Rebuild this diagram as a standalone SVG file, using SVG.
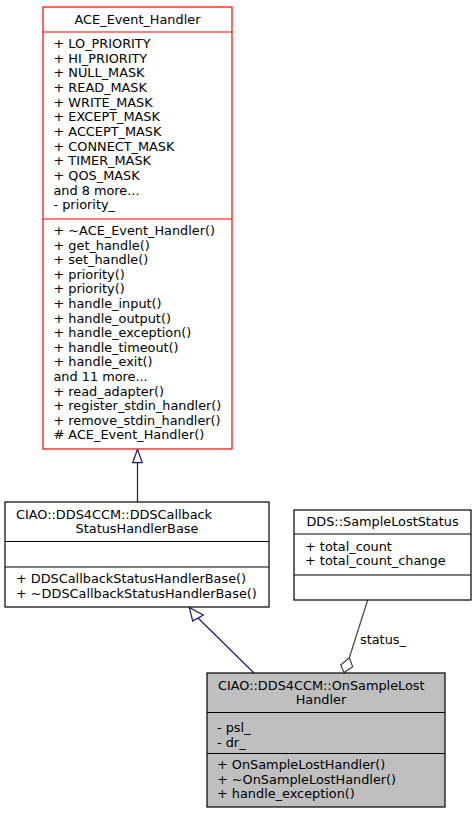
<svg xmlns="http://www.w3.org/2000/svg" width="476" height="813" viewBox="0 0 476 813">
<style>
text{font-family:"DejaVu Sans","Noto Sans",sans-serif;font-size:12.85px;fill:#000}
.c{text-anchor:middle}
.box{fill:#fff;stroke:#000;stroke-width:1.2}
.red{fill:#fff;stroke:#ff0000;stroke-width:1.2}
.gray{fill:#bfbfbf;stroke:#000;stroke-width:1.2}
.sepr{stroke:#ff0000;stroke-width:1.2}
.sep{stroke:#000;stroke-width:1.2}
.inh{stroke:#191970;stroke-width:1.2;fill:none}
.inhh{stroke:#191970;stroke-width:1.2;fill:#fff}
.agg{stroke:#404040;stroke-width:1.2;fill:none}
.aggh{stroke:#404040;stroke-width:1.2;fill:#fff}
</style>
<rect width="476" height="813" fill="#fff"/>
<g id="connectors">
<line class="inh" x1="137.5" y1="502" x2="137.5" y2="462.7"/>
<polygon class="inhh" points="137.5,449.3 132.7,462.7 142.3,462.7"/>
<line class="inh" x1="254" y1="673" x2="198" y2="618"/>
<polygon class="inhh" points="189.3,607.5 192.7,621 203.3,615"/>
<line class="agg" x1="367.7" y1="600" x2="349.3" y2="657.7"/>
<polygon class="aggh" points="349.3,657.7 352.7,666.7 344,672.5 340.7,665"/>
<text x="360" y="643.5">status_</text>
</g>
<g id="ACE_Event_Handler">
<rect class="red" x="43" y="7" width="189" height="442"/>
<line class="sepr" x1="43" y1="32" x2="232" y2="32"/>
<line class="sepr" x1="43" y1="219" x2="232" y2="219"/>
<text class="c" x="137.5" y="23.5">ACE_Event_Handler</text>
<text x="53.5" y="48">+ LO_PRIORITY</text>
<text x="53.5" y="62.67">+ HI_PRIORITY</text>
<text x="53.5" y="77.33">+ NULL_MASK</text>
<text x="53.5" y="92">+ READ_MASK</text>
<text x="53.5" y="106.67">+ WRITE_MASK</text>
<text x="53.5" y="121.33">+ EXCEPT_MASK</text>
<text x="53.5" y="136">+ ACCEPT_MASK</text>
<text x="53.5" y="150.67">+ CONNECT_MASK</text>
<text x="53.5" y="165.33">+ TIMER_MASK</text>
<text x="53.5" y="180">+ QOS_MASK</text>
<text x="53.5" y="194.67">and 8 more...</text>
<text x="53.5" y="209.33">- priority_</text>
<text x="53.5" y="235">+ ~ACE_Event_Handler()</text>
<text x="53.5" y="249.6">+ get_handle()</text>
<text x="53.5" y="264.2">+ set_handle()</text>
<text x="53.5" y="278.8">+ priority()</text>
<text x="53.5" y="293.4">+ priority()</text>
<text x="53.5" y="308">+ handle_input()</text>
<text x="53.5" y="322.6">+ handle_output()</text>
<text x="53.5" y="337.2">+ handle_exception()</text>
<text x="53.5" y="351.8">+ handle_timeout()</text>
<text x="53.5" y="366.4">+ handle_exit()</text>
<text x="53.5" y="381">and 11 more...</text>
<text x="53.5" y="395.6">+ read_adapter()</text>
<text x="53.5" y="410.2">+ register_stdin_handler()</text>
<text x="53.5" y="424.8">+ remove_stdin_handler()</text>
<text x="53.5" y="439.4"># ACE_Event_Handler()</text>
</g>
<g id="DDSCallbackStatusHandlerBase">
<rect class="box" x="5" y="502" width="264" height="105"/>
<line class="sep" x1="5" y1="541.5" x2="269" y2="541.5"/>
<line class="sep" x1="5" y1="567" x2="269" y2="567"/>
<text x="16" y="519">CIAO::DDS4CCM::DDSCallback</text>
<text class="c" x="137" y="533">StatusHandlerBase</text>
<text x="16" y="582.5">+ DDSCallbackStatusHandlerBase()</text>
<text x="16" y="597.5">+ ~DDSCallbackStatusHandlerBase()</text>
</g>
<g id="SampleLostStatus">
<rect class="box" x="294" y="510" width="177" height="90"/>
<line class="sep" x1="294" y1="534" x2="471" y2="534"/>
<line class="sep" x1="294" y1="575" x2="471" y2="575"/>
<text class="c" x="382.5" y="525.5">DDS::SampleLostStatus</text>
<text x="305" y="551">+ total_count</text>
<text x="305" y="565">+ total_count_change</text>
</g>
<g id="OnSampleLostHandler">
<rect class="gray" x="207" y="673" width="238" height="134"/>
<line class="sep" x1="207" y1="712.5" x2="445" y2="712.5"/>
<line class="sep" x1="207" y1="753.5" x2="445" y2="753.5"/>
<text x="218" y="689.5">CIAO::DDS4CCM::OnSampleLost</text>
<text class="c" x="321" y="703.5">Handler</text>
<text x="217" y="732">- psl_</text>
<text x="217" y="746.5">- dr_</text>
<text x="217" y="769">+ OnSampleLostHandler()</text>
<text x="217" y="783.5">+ ~OnSampleLostHandler()</text>
<text x="217" y="798">+ handle_exception()</text>
</g>
</svg>
